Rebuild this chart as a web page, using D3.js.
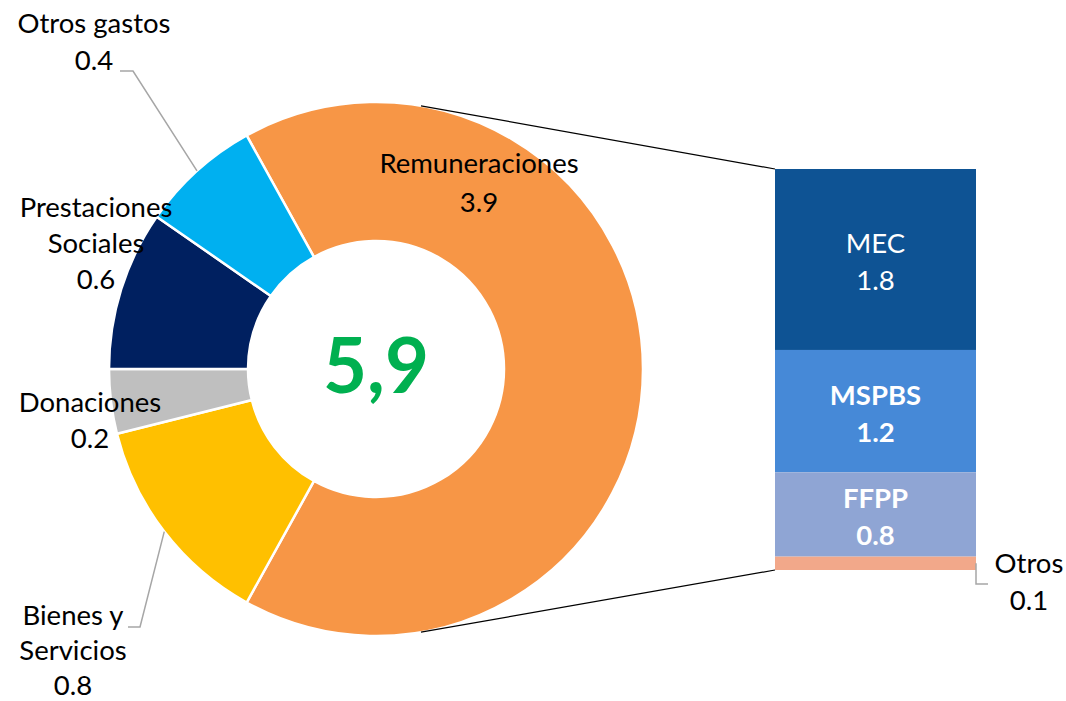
<!DOCTYPE html>
<html>
<head>
<meta charset="utf-8">
<script src="https://cdn.jsdelivr.net/npm/d3@7"></script>
<style>
  body { margin: 0; background: #fff; }
  svg text { font-family: Lato, "Noto Sans", sans-serif; fill: #000; }
</style>
</head>
<body>
<svg id="chart" width="1066" height="701"></svg>
<script>
// donut: gasto total por objeto
const categories = ["Remuneraciones", "Bienes y\nServicios", "Donaciones", "Prestaciones\nSociales", "Otros gastos"];
const values = [3.90, 0.77, 0.23, 0.57, 0.43];
const colors = ["#F79646", "#FFC000", "#BFBFBF", "#002060", "#00B0F0"];

// barra: desglose de remuneraciones
const barCategories = ["MEC", "MSPBS", "FFPP", "Otros"];
const barValues = [1.76, 1.19, 0.82, 0.13];
const barColors = ["#0E5394", "#4689D7", "#8FA5D4", "#F2A88A"];

const svg = d3.select("#chart");
const fmt = d3.format(".1f");
const esFmt = d3.formatLocale({decimal: ",", thousands: ".", grouping: [3], currency: ["", ""]}).format(".1f");
const fs = 27.5;

const cx = 376, cy = 369;
const rOuter = 267, rInner = 128;
const total = d3.sum(values);

// first slice centred on the right side
const remSpan = values[0] / total * 2 * Math.PI;
const start = Math.PI / 2 - remSpan / 2;

const pie = d3.pie().sort(null).startAngle(start).endAngle(start + 2 * Math.PI);
const arcs = pie(values);
const arc = d3.arc().innerRadius(rInner).outerRadius(rOuter);

const g = svg.append("g").attr("transform", `translate(${cx},${cy})`);

// connector lines to the bar (drawn below the donut)
const y = d3.scaleLinear().domain([0, d3.sum(barValues)]).range([169, 570]);
const barX = 775, barW = 201;
const connA = 9.7 * Math.PI / 180;
function onArc(a, r) { return [cx + r * Math.sin(a), cy - r * Math.cos(a)]; }
[[onArc(connA, rOuter), [barX, y(0)]],
 [onArc(Math.PI - connA, rOuter), [barX, y(d3.sum(barValues))]]].forEach(function(p) {
    svg.append("line")
        .attr("x1", p[0][0]).attr("y1", p[0][1])
        .attr("x2", p[1][0]).attr("y2", p[1][1])
        .attr("stroke", "#000").attr("stroke-width", 1.2);
});

g.selectAll("path.slice")
    .data(arcs)
    .join("path")
    .attr("class", "slice")
    .attr("d", arc)
    .attr("fill", (d, i) => colors[i])
    .attr("stroke", "#fff")
    .attr("stroke-width", 2.5);

// total in the hole
g.append("text")
    .attr("x", 0).attr("y", 24)
    .attr("text-anchor", "middle")
    .attr("font-size", 76)
    .attr("font-weight", "bold")
    .style("fill", "#00B050")
    .text(esFmt(total));

// slice labels (placed by hand like the original)
const labelPos = {
    "Remuneraciones": [479, 173, 39],
    "Bienes y\nServicios": [73, 625, 35],
    "Donaciones": [90, 412, 36],
    "Prestaciones\nSociales": [96, 217, 36],
    "Otros gastos": [94, 33, 37]
};
const leaders = {
    "Bienes y\nServicios": [[128, 627], [140, 627]],
    "Otros gastos": [[120, 71], [133, 71]]
};

categories.forEach(function(c, i) {
    const p = labelPos[c];
    const lines = c.split("\n").concat([fmt(values[i])]);
    const t = svg.append("text")
        .attr("text-anchor", "middle")
        .attr("font-size", fs);
    lines.forEach(function(l, j) {
        t.append("tspan").attr("x", p[0]).attr("y", p[1] + j * p[2]).text(l);
    });
    if (leaders[c]) {
        const mid = (arcs[i].startAngle + arcs[i].endAngle) / 2;
        const pts = leaders[c].concat([onArc(mid, rOuter)]);
        svg.append("path")
            .attr("d", d3.line()(pts))
            .attr("fill", "none")
            .attr("stroke", "#A6A6A6")
            .attr("stroke-width", 1.5);
    }
});

// stacked bar
let acc = 0;
const segs = barValues.map(function(v, i) {
    const s = {name: barCategories[i], value: v, y0: acc, y1: acc + v, color: barColors[i]};
    acc += v;
    return s;
});

svg.selectAll("rect.seg")
    .data(segs)
    .join("rect")
    .attr("class", "seg")
    .attr("x", barX)
    .attr("y", d => y(d.y0))
    .attr("width", barW)
    .attr("height", d => y(d.y1) - y(d.y0))
    .attr("fill", d => d.color);

// labels inside the bar (all but the thin last one)
segs.slice(0, 3).forEach(function(d, i) {
    const my = (y(d.y0) + y(d.y1)) / 2;
    const t = svg.append("text")
        .attr("text-anchor", "middle")
        .attr("font-size", fs)
        .attr("font-weight", i === 0 ? "normal" : "bold");
    t.append("tspan").attr("x", barX + barW / 2).attr("y", my - 6).style("fill", "#fff").text(d.name);
    t.append("tspan").attr("x", barX + barW / 2).attr("y", my + 31).style("fill", "#fff").text(fmt(d.value));
});

// last segment: outside label with leader
const last = segs[3];
const ly = (y(last.y0) + y(last.y1)) / 2;
svg.append("path")
    .attr("d", d3.line()([[barX + barW, ly], [barX + barW, 584], [988, 584]]))
    .attr("fill", "none")
    .attr("stroke", "#A6A6A6")
    .attr("stroke-width", 1.5);
const lt = svg.append("text").attr("text-anchor", "middle").attr("font-size", fs);
lt.append("tspan").attr("x", 1029).attr("y", 573).text(last.name);
lt.append("tspan").attr("x", 1029).attr("y", 610).text(fmt(last.value));
</script>
</body>
</html>
